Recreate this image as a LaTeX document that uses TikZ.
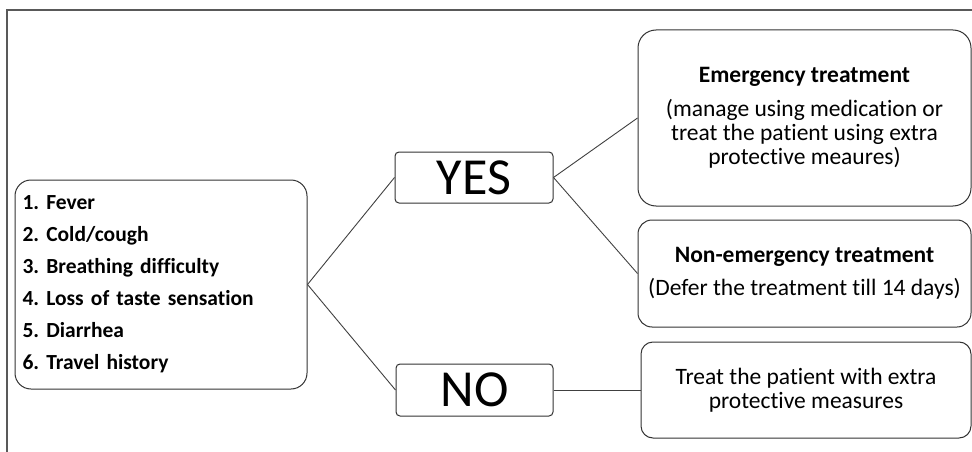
\documentclass[tikz,border=0pt]{standalone}
\usepackage{fontspec}
\setmainfont{Carlito}[Ligatures={NoCommon}]
\frenchspacing
\begin{document}
\begin{tikzpicture}[x=1pt,y=-1pt,
  box/.style={draw=black!80, line width=1pt, rectangle, inner sep=0pt},
  link/.style={draw=black!75, line width=0.9pt},
  frame/.style={draw=black!65, line width=1.5pt}]
\useasboundingbox (0,0) rectangle (972,452);
\draw[frame] (7,452) -- (7,10) -- (972,10);
% symptoms
\node[box, rounded corners=16pt, minimum width=292pt, minimum height=209pt,
  text width=277pt, inner xsep=7.5pt, align=left,
  font=\fontsize{21.5}{32}\selectfont\bfseries] (sym) at (161,284.5)
  {1. Fever\\2. Cold/cough\\3. Breathing difficulty\\4. Loss of taste sensation\\5. Diarrhea\\6. Travel history};
% yes / no
\node[box, rounded corners=4pt, minimum width=158pt, minimum height=51pt,
  font=\fontsize{52}{52}\selectfont] (yes) at (474,177.5) {YES};
\node[box, rounded corners=4pt, minimum width=157pt, minimum height=52pt,
  font=\fontsize{52}{52}\selectfont] (no) at (474.5,390) {NO};
% outcomes
\node[box, rounded corners=18pt, minimum width=333pt, minimum height=176pt,
  align=center, font=\fontsize{23.5}{24}\selectfont] (emerg) at (804.5,118)
  {{\bfseries Emergency treatment}\\[10pt](manage using medication or\\treat the patient using extra\\protective meaures)};
\node[box, rounded corners=14pt, minimum width=333pt, minimum height=107pt,
  align=center, font=\fontsize{23.5}{24}\selectfont] (nonem) at (804.5,273.5)
  {{\bfseries Non-emergency treatment}\\[9pt](Defer the treatment till 14 days)};
\node[box, rounded corners=12pt, minimum width=330pt, minimum height=96pt,
  align=center, font=\fontsize{23.5}{24}\selectfont] (treat) at (806,390)
  {Treat the patient with extra\\protective measures};
% connectors
\draw[link] (sym.east) -- (yes.west);
\draw[link] (sym.east) -- (no.west);
\draw[link] (yes.east) -- (emerg.west);
\draw[link] (yes.east) -- (nonem.west);
\draw[link] (no.east) -- (treat.west);
\end{tikzpicture}
\end{document}
